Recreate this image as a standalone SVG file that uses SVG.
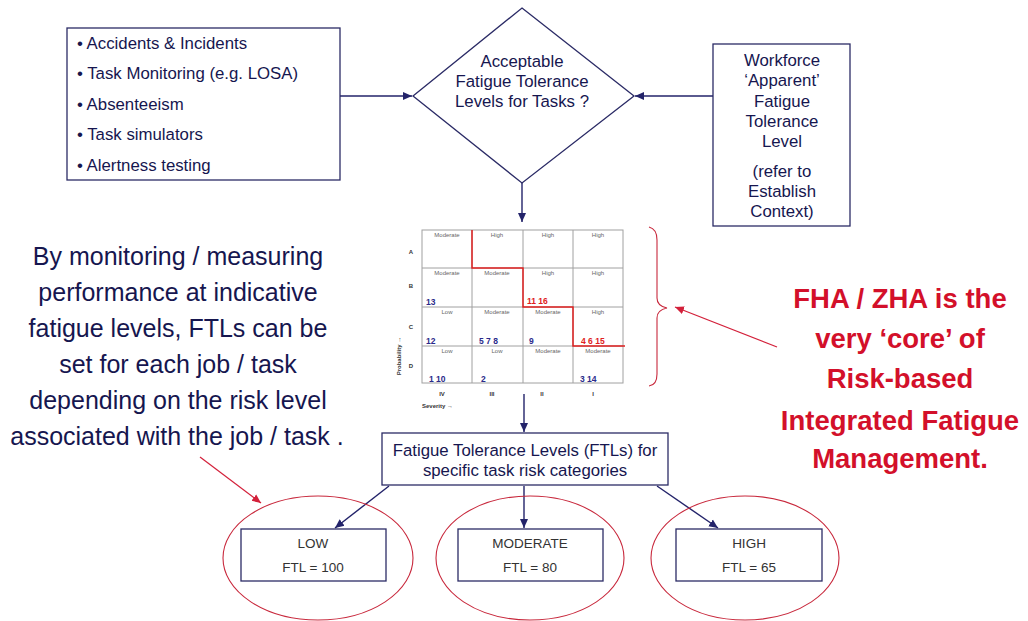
<svg xmlns="http://www.w3.org/2000/svg" width="1028" height="621" viewBox="0 0 1028 621">
<defs>
<style>
.box{fill:#fff;stroke:#2b2b66;stroke-width:1.3}
.t{font-family:"Liberation Sans",Arial,sans-serif;fill:#16164f}
.m{font-size:16.8px}
.c{text-anchor:middle}
.big{font-size:25px}
.red{font-family:"Liberation Sans",Arial,sans-serif;font-weight:bold;font-size:27.5px;fill:#d3102a;text-anchor:middle}
.grid{fill:none;stroke:#a0a0a0;stroke-width:1}
.cl{font-family:"Liberation Sans",Arial,sans-serif;font-size:6px;fill:#666;text-anchor:middle}
.num{font-family:"Liberation Sans",Arial,sans-serif;font-size:8.5px;font-weight:bold;fill:#2a2a8a}
.rn{fill:#e02020}
.ax{font-family:"Liberation Sans",Arial,sans-serif;font-size:6px;font-weight:bold;fill:#333;text-anchor:middle}
.conn{fill:none;stroke:#23236a;stroke-width:1.4}
.rconn{fill:none;stroke:#d3203a;stroke-width:1.2}
.ell{fill:none;stroke:#c8283c;stroke-width:1.1}
.lvl{font-family:"Liberation Sans",Arial,sans-serif;font-size:13.5px;fill:#333;text-anchor:middle}
</style>
<marker id="ah" markerWidth="10" markerHeight="10" refX="9" refY="5" orient="auto" markerUnits="userSpaceOnUse">
<path d="M0,1 L9,5 L0,9 Z" fill="#23236a"/>
</marker>
<marker id="rah" markerWidth="10" markerHeight="10" refX="9" refY="5" orient="auto" markerUnits="userSpaceOnUse">
<path d="M0,1 L9,5 L0,9 Z" fill="#d3203a"/>
</marker>
</defs>
<rect width="1028" height="621" fill="#fff"/>

<g id="connectors">
<line class="conn" x1="340" y1="96" x2="412" y2="96" marker-end="url(#ah)"/>
<line class="conn" x1="713" y1="96" x2="635" y2="96" marker-end="url(#ah)"/>
<line class="conn" x1="522" y1="183" x2="522" y2="222" marker-end="url(#ah)"/>
<line class="conn" x1="524" y1="394" x2="524" y2="432" marker-end="url(#ah)"/>
<line class="conn" x1="389" y1="486" x2="335" y2="528" marker-end="url(#ah)"/>
<line class="conn" x1="524" y1="486" x2="524" y2="528" marker-end="url(#ah)"/>
<line class="conn" x1="657" y1="486" x2="718" y2="528" marker-end="url(#ah)"/>
<line class="rconn" x1="200" y1="457" x2="261" y2="503" marker-end="url(#rah)"/>
<line class="rconn" x1="777" y1="347" x2="675" y2="307" marker-end="url(#rah)"/>
</g>

<g id="sources">
<rect class="box" x="67" y="28" width="273" height="152"/>
<g class="t m">
<text x="77" y="49">• Accidents &amp; Incidents</text>
<text x="77" y="79">• Task Monitoring (e.g. LOSA)</text>
<text x="77" y="110">• Absenteeism</text>
<text x="77" y="140">• Task simulators</text>
<text x="77" y="171">• Alertness testing</text>
</g>
</g>

<g id="decision">
<polygon class="box" points="522,8 634,96 522,183 413,96"/>
<g class="t m c">
<text x="522" y="67">Acceptable</text>
<text x="522" y="87">Fatigue Tolerance</text>
<text x="522" y="107">Levels for Tasks ?</text>
</g>
</g>

<g id="workforce">
<rect class="box" x="713" y="44" width="137" height="182"/>
<g class="t m c">
<text x="782" y="66">Workforce</text>
<text x="782" y="86">‘Apparent’</text>
<text x="782" y="107">Fatigue</text>
<text x="782" y="127">Tolerance</text>
<text x="782" y="147">Level</text>
<text x="782" y="177">(refer to</text>
<text x="782" y="197">Establish</text>
<text x="782" y="217">Context)</text>
</g>
</g>

<g id="risk-matrix">
<rect class="grid" x="422" y="230" width="201" height="153"/>
<line class="grid" x1="472" y1="230" x2="472" y2="383"/>
<line class="grid" x1="523" y1="230" x2="523" y2="383"/>
<line class="grid" x1="573" y1="230" x2="573" y2="383"/>
<line class="grid" x1="422" y1="268" x2="623" y2="268"/>
<line class="grid" x1="422" y1="307" x2="623" y2="307"/>
<line class="grid" x1="422" y1="346" x2="623" y2="346"/>
<polyline points="472,230 472,268 523,268 523,307 573,307 573,346 625,346" fill="none" stroke="#e02020" stroke-width="1.5"/>
<text class="cl" x="447" y="237">Moderate</text>
<text class="cl" x="497" y="237">High</text>
<text class="cl" x="548" y="237">High</text>
<text class="cl" x="598" y="237">High</text>
<text class="cl" x="447" y="275">Moderate</text>
<text class="cl" x="497" y="275">Moderate</text>
<text class="cl" x="548" y="275">High</text>
<text class="cl" x="598" y="275">High</text>
<text class="cl" x="447" y="314">Low</text>
<text class="cl" x="497" y="314">Moderate</text>
<text class="cl" x="548" y="314">Moderate</text>
<text class="cl" x="598" y="314">High</text>
<text class="cl" x="447" y="353">Low</text>
<text class="cl" x="497" y="353">Low</text>
<text class="cl" x="548" y="353">Moderate</text>
<text class="cl" x="598" y="353">Moderate</text>
<text class="num" x="426" y="305">13</text>
<text class="num rn" x="527" y="304">11 16</text>
<text class="num" x="426" y="344">12</text>
<text class="num" x="479" y="344">5  7  8</text>
<text class="num" x="529" y="344">9</text>
<text class="num rn" x="581" y="344">4  6 15</text>
<text class="num" x="429" y="382">1 10</text>
<text class="num" x="481" y="382">2</text>
<text class="num" x="580" y="382">3 14</text>
<text class="ax" x="411" y="254">A</text>
<text class="ax" x="411" y="288">B</text>
<text class="ax" x="411" y="329">C</text>
<text class="ax" x="411" y="368">D</text>
<text class="ax" x="442" y="396">IV</text>
<text class="ax" x="492" y="396">III</text>
<text class="ax" x="542" y="396">II</text>
<text class="ax" x="593" y="396">I</text>
<text class="ax" x="422" y="408" style="text-anchor:start">Severity  →</text>
<text class="ax" transform="translate(401,356) rotate(-90)">Probability   →</text>
</g>

<g id="brace">
<path d="M649,227 Q657,229 657,240 L657,298 Q657,306 667,308 Q657,310 657,318 L657,374 Q657,385 649,386" fill="none" stroke="#c8283c" stroke-width="1.1"/>
</g>

<g id="ftl-box">
<rect class="box" x="382" y="433" width="286" height="52"/>
<g class="t m c">
<text x="525" y="456">Fatigue Tolerance Levels (FTLs) for</text>
<text x="525" y="476">specific task risk categories</text>
</g>
</g>

<g id="note-left">
<g class="t big c">
<text x="178" y="265">By monitoring / measuring</text>
<text x="178" y="301">performance at indicative</text>
<text x="178" y="337">fatigue levels, FTLs can be</text>
<text x="178" y="373">set for each job / task</text>
<text x="178" y="409">depending on the risk level</text>
<text x="177" y="445">associated with the job / task .</text>
</g>
</g>

<g id="note-right">
<text class="red" x="900" y="308">FHA / ZHA is the</text>
<text class="red" x="900" y="348">very ‘core’ of</text>
<text class="red" x="900" y="388">Risk-based</text>
<text class="red" x="900" y="430">Integrated Fatigue</text>
<text class="red" x="900" y="468">Management.</text>
</g>

<g id="low">
<ellipse class="ell" cx="318" cy="558" rx="95" ry="62"/>
<rect class="box" x="241" y="529" width="145" height="52"/>
<text class="lvl" x="313" y="548">LOW</text>
<text class="lvl" x="313" y="572">FTL = 100</text>
</g>

<g id="moderate">
<ellipse class="ell" cx="530" cy="558" rx="94" ry="62"/>
<rect class="box" x="458" y="529" width="145" height="52"/>
<text class="lvl" x="530" y="548">MODERATE</text>
<text class="lvl" x="530" y="572">FTL = 80</text>
</g>

<g id="high">
<ellipse class="ell" cx="745" cy="558" rx="94" ry="62"/>
<rect class="box" x="676" y="529" width="146" height="52"/>
<text class="lvl" x="749" y="548">HIGH</text>
<text class="lvl" x="749" y="572">FTL = 65</text>
</g>
</svg>
